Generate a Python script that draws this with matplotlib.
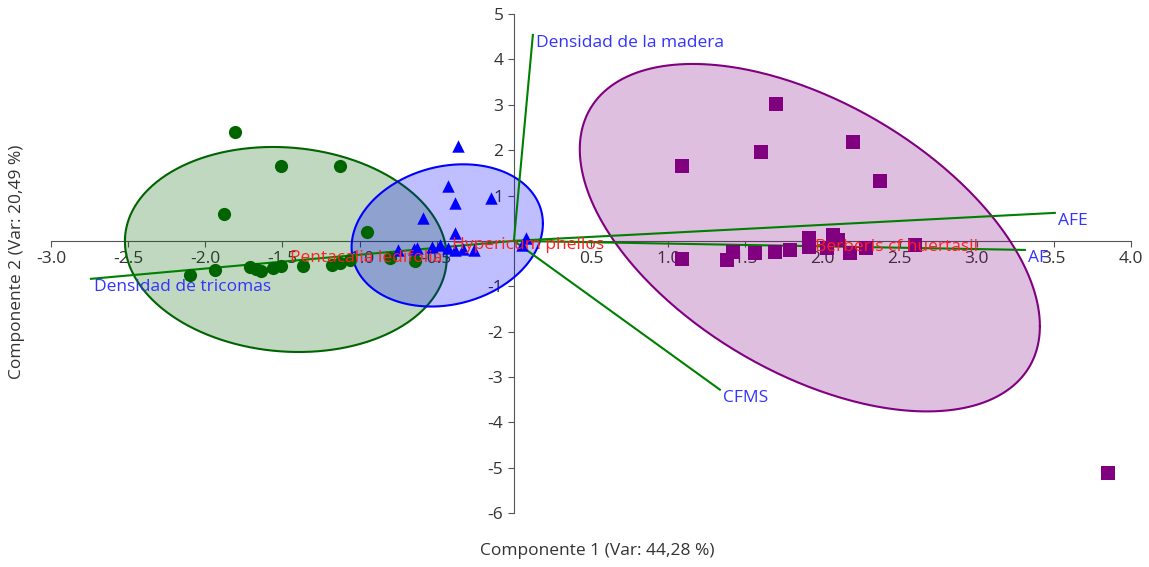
import numpy as np
import matplotlib
matplotlib.use("Agg")
import matplotlib.pyplot as plt

plt.rcParams['font.family'] = ['Open Sans', 'DejaVu Sans']

# PCA scores per species (Componente 1, Componente 2)
pent_x = [-1.81, -1.51, -1.13, -1.88, -0.95, -2.10, -1.94, -1.71, -1.67, -1.64,
          -1.56, -1.51, -1.37, -1.18, -1.13, -1.06, -0.80, -0.64]
pent_y = [2.39, 1.64, 1.64, 0.60, 0.19, -0.75, -0.64, -0.58, -0.62, -0.67,
          -0.60, -0.55, -0.55, -0.53, -0.48, -0.43, -0.38, -0.45]

hyp_x = [-0.36, -0.43, -0.38, -0.15, -0.59, -0.38, 0.08, -0.75, -0.65, -0.63,
         -0.53, -0.48, -0.43, -0.38, -0.33, -0.26, 0.05]
hyp_y = [2.09, 1.20, 0.84, 0.95, 0.50, 0.17, 0.06, -0.20, -0.18, -0.16,
         -0.13, -0.10, -0.16, -0.20, -0.18, -0.20, -0.09]

ber_x = [1.70, 2.20, 1.60, 1.09, 2.37, 1.09, 1.38, 1.42, 1.56, 1.69,
         1.79, 1.91, 1.91, 2.03, 2.07, 2.10, 2.18, 2.28, 2.60, 3.85]
ber_y = [3.01, 2.17, 1.97, 1.64, 1.33, -0.40, -0.43, -0.24, -0.27, -0.24,
         -0.21, 0.06, -0.13, -0.16, 0.13, 0.02, -0.27, -0.15, -0.09, -5.11]

# species names at group centroids
species = ['Pentacalia ledifolia', 'Hypericum phellos', 'Berberis cf huertasii']
species_x = [-1.45, -0.40, 1.95]
species_y = [-0.37, -0.09, -0.13]

# 95% ellipses: centre, half-range in x, half-range in y, correlation
ell_cx = [-1.478, -0.432, 1.918]
ell_cy = [-0.19, 0.12, 0.07]
ell_rx = [1.043, 0.620, 1.491]
ell_ry = [2.26, 1.568, 3.83]
ell_rho = [-0.08, 0.167, -0.509]

# variable loadings (biplot vectors)
var_names = ['Densidad de la madera', 'AFE', 'AF', 'CFMS', 'Densidad de tricomas']
var_x = [0.123, 3.506, 3.312, 1.335, -2.741]
var_y = [4.54, 0.617, -0.20, -3.28, -0.837]

colors = ['#006400', '#0000ff', '#800080']

fig = plt.figure(figsize=(11.49, 5.67), dpi=100)
ax = fig.add_axes([0.0444, 0.0952, 0.940, 0.880])

# ellipses
t = np.linspace(0, 2 * np.pi, 400)
for i in range(3):
    d = np.arccos(ell_rho[i])
    ex = ell_cx[i] + ell_rx[i] * np.cos(t)
    ey = ell_cy[i] + ell_ry[i] * np.cos(t - d)
    ax.fill(ex, ey, color=colors[i], alpha=0.25, lw=0, zorder=3)
    ax.plot(ex, ey, color=colors[i], lw=1.5, zorder=3)

# biplot vectors
for name, vx, vy in zip(var_names, var_x, var_y):
    ax.plot([0, vx], [0, vy], color='#008000', lw=1.5, zorder=4)
    ax.annotate(name, (vx, vy), xytext=(2, 0), textcoords='offset points',
                ha='left', va='top', color='#3333ff', fontsize=12.5, zorder=6)

ax.scatter(pent_x, pent_y, marker='o', s=90, color=colors[0], lw=0, zorder=5)
ax.scatter(hyp_x, hyp_y, marker='^', s=80, color=colors[1], lw=0, zorder=5)
ax.scatter(ber_x, ber_y, marker='s', s=95, color=colors[2], lw=0, zorder=5)

for name, sx, sy in zip(species, species_x, species_y):
    ax.text(sx, sy, name, color='#ff2020', fontsize=12.5, ha='left', va='center', zorder=6)

ax.set_xlim(-3, 4)
ax.set_ylim(-6, 5)
for s in ['top', 'right']:
    ax.spines[s].set_visible(False)
for s in ['left', 'bottom']:
    ax.spines[s].set_position(('data', 0))
    ax.spines[s].set_color('#555555')
    ax.spines[s].set_zorder(2)

xt = [v for v in np.arange(-3.0, 4.01, 0.5) if abs(v) > 1e-9]
yt = [v for v in range(-6, 6) if v != 0]
ax.set_xticks(xt)
ax.set_xticklabels([f'{v:.1f}' for v in xt])
ax.set_yticks(yt)
ax.set_yticklabels([str(v) for v in yt])
ax.tick_params(axis='both', colors='#555555', labelcolor='#333333', labelsize=12.5,
               length=4, direction='out')

fig.text(0.52, 0.028, 'Componente 1 (Var: 44,28 %)', ha='center', va='center',
         fontsize=12.5, color='#333333')
fig.text(0.0148, 0.538, 'Componente 2 (Var: 20,49 %)', ha='center', va='center',
         rotation=90, fontsize=12.5, color='#333333')

fig.savefig('out.png', dpi=100)
